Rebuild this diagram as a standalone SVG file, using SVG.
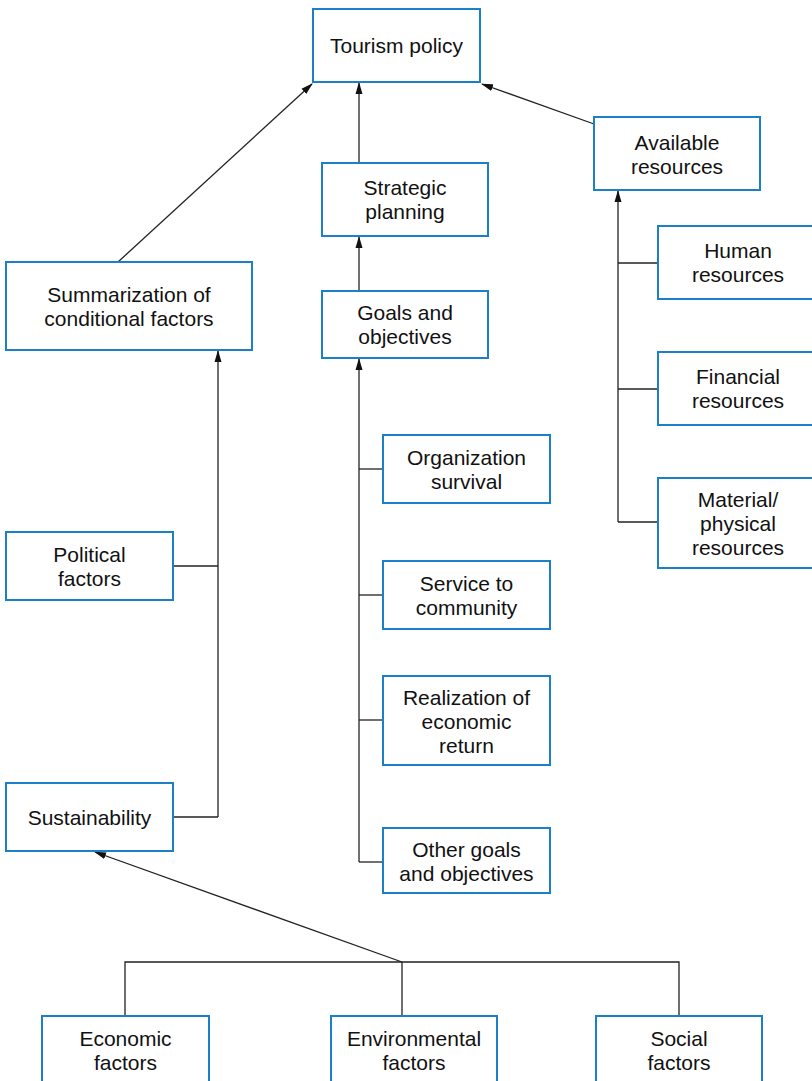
<svg xmlns="http://www.w3.org/2000/svg" width="812" height="1081" viewBox="0 0 812 1081">
<style>
.box{fill:#fff;stroke:#1b80c6;stroke-width:2}
.t{font-family:"Liberation Sans",Arial,sans-serif;font-size:21px;fill:#111;text-anchor:middle;dominant-baseline:central}
.c{fill:none;stroke:#222;stroke-width:1.3}
</style>
<defs>
<marker id="ah" markerUnits="userSpaceOnUse" markerWidth="12" markerHeight="8" refX="11" refY="4" orient="auto">
<path d="M0,0.5 L12,4 L0,7.5 z" fill="#111"/>
</marker>
</defs>
<rect width="812" height="1081" fill="#fff"/>
<g id="connectors">
<line class="c" x1="118" y1="262" x2="312" y2="84" marker-end="url(#ah)"/>
<line class="c" x1="359" y1="163" x2="359" y2="83" marker-end="url(#ah)"/>
<line class="c" x1="594" y1="124" x2="482" y2="84" marker-end="url(#ah)"/>
<line class="c" x1="359" y1="291" x2="359" y2="237" marker-end="url(#ah)"/>
<line class="c" x1="359" y1="862" x2="359" y2="359" marker-end="url(#ah)"/>
<polyline class="c" points="383,469 359,469"/>
<polyline class="c" points="383,595 359,595"/>
<polyline class="c" points="383,720 359,720"/>
<polyline class="c" points="383,862 359,862"/>
<line class="c" x1="618" y1="522" x2="618" y2="191" marker-end="url(#ah)"/>
<polyline class="c" points="658,263 618,263"/>
<polyline class="c" points="658,389 618,389"/>
<polyline class="c" points="658,522 618,522"/>
<line class="c" x1="218" y1="817" x2="218" y2="351" marker-end="url(#ah)"/>
<polyline class="c" points="173,566 218,566"/>
<polyline class="c" points="173,817 218,817"/>
<line class="c" x1="402" y1="962" x2="95" y2="852" marker-end="url(#ah)"/>
<polyline class="c" points="125,1016 125,962 679,962 679,1016"/>
<line class="c" x1="402" y1="962" x2="402" y2="1016"/>
</g>
<g id="tourism-policy"><rect class="box" x="313" y="9" width="167" height="73"/><text class="t" x="396.5" y="45.5">Tourism policy</text></g>
<g id="strategic-planning"><rect class="box" x="322" y="163" width="166" height="73"/><text class="t" x="405" y="187">Strategic</text><text class="t" x="405" y="211">planning</text></g>
<g id="goals-objectives"><rect class="box" x="322" y="291" width="166" height="67"/><text class="t" x="405" y="312">Goals and</text><text class="t" x="405" y="336">objectives</text></g>
<g id="available-resources"><rect class="box" x="594" y="117" width="166" height="73"/><text class="t" x="677" y="142">Available</text><text class="t" x="677" y="166">resources</text></g>
<g id="human-resources"><rect class="box" x="658" y="226" width="160" height="73"/><text class="t" x="738" y="250">Human</text><text class="t" x="738" y="274">resources</text></g>
<g id="financial-resources"><rect class="box" x="658" y="352" width="160" height="73"/><text class="t" x="738" y="376">Financial</text><text class="t" x="738" y="400">resources</text></g>
<g id="material-resources"><rect class="box" x="658" y="478" width="160" height="90"/><text class="t" x="738" y="499">Material/</text><text class="t" x="738" y="523">physical</text><text class="t" x="738" y="547">resources</text></g>
<g id="summarization"><rect class="box" x="6" y="262" width="246" height="88"/><text class="t" x="129" y="294">Summarization of</text><text class="t" x="129" y="318">conditional factors</text></g>
<g id="political-factors"><rect class="box" x="6" y="532" width="167" height="68"/><text class="t" x="89.5" y="554">Political</text><text class="t" x="89.5" y="578">factors</text></g>
<g id="sustainability"><rect class="box" x="6" y="783" width="167" height="68"/><text class="t" x="89.5" y="817">Sustainability</text></g>
<g id="organization-survival"><rect class="box" x="383" y="435" width="167" height="68"/><text class="t" x="466.5" y="457">Organization</text><text class="t" x="466.5" y="481">survival</text></g>
<g id="service-community"><rect class="box" x="383" y="561" width="167" height="68"/><text class="t" x="466.5" y="583">Service to</text><text class="t" x="466.5" y="607">community</text></g>
<g id="economic-return"><rect class="box" x="383" y="676" width="167" height="89"/><text class="t" x="466.5" y="697">Realization of</text><text class="t" x="466.5" y="721">economic</text><text class="t" x="466.5" y="745">return</text></g>
<g id="other-goals"><rect class="box" x="383" y="828" width="167" height="65"/><text class="t" x="466.5" y="849">Other goals</text><text class="t" x="466.5" y="873">and objectives</text></g>
<g id="economic-factors"><rect class="box" x="42" y="1016" width="167" height="80"/><text class="t" x="125.5" y="1038">Economic</text><text class="t" x="125.5" y="1062">factors</text></g>
<g id="environmental-factors"><rect class="box" x="331" y="1016" width="166" height="80"/><text class="t" x="414" y="1038">Environmental</text><text class="t" x="414" y="1062">factors</text></g>
<g id="social-factors"><rect class="box" x="596" y="1016" width="166" height="80"/><text class="t" x="679" y="1038">Social</text><text class="t" x="679" y="1062">factors</text></g>
</svg>
